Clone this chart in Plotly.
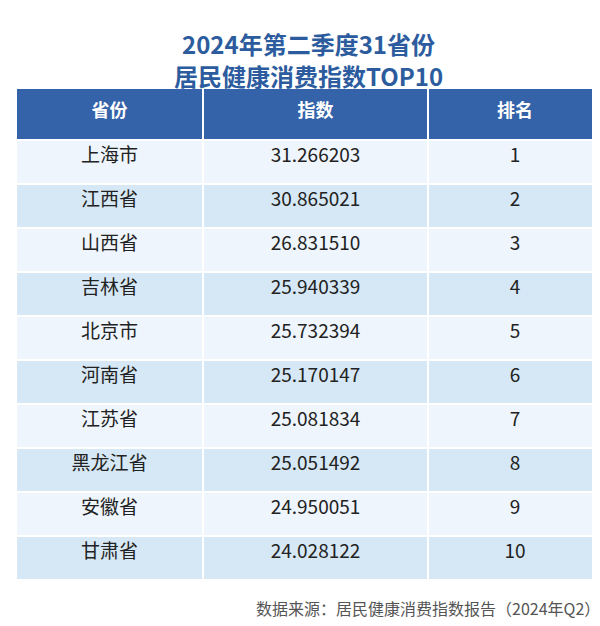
import plotly.graph_objects as go

provinces = ["上海市","江西省","山西省","吉林省","北京市","河南省","江苏省","黑龙江省","安徽省","甘肃省"]
index_vals = ["31.266203","30.865021","26.831510","25.940339","25.732394","25.170147","25.081834","25.051492","24.950051","24.028122"]
ranks = [1,2,3,4,5,6,7,8,9,10]
headers = ["省份","指数","排名"]

W, H = 600, 626
row_colors = ["#eef5fc" if i % 2 == 0 else "#d6e8f5" for i in range(len(provinces))]
font = "Noto Sans CJK SC"

fig = go.Figure(go.Table(
    domain=dict(x=[8/W, 594/W], y=[0.03, 1-80/H]),
    columnwidth=[187, 225, 174],
    header=dict(values=[f"<b>{h}</b>" for h in headers], fill_color="#3563a9",
                line=dict(color="white", width=2), align="center", height=52,
                font=dict(family=font, size=18, color="white")),
    cells=dict(values=[provinces, index_vals, ranks], fill_color=[row_colors]*3,
               line=dict(color="white", width=2), align="center", height=44,
               font=dict(family=font, size=19, color="#222222")),
))
fig.add_annotation(x=0.5, y=1-36/H, xref="paper", yref="paper", showarrow=False, yanchor="middle",
                   text="<b>2024年第二季度31省份</b>", font=dict(family=font, size=24, color="#2c5c9e"))
fig.add_annotation(x=0.5, y=1-67/H, xref="paper", yref="paper", showarrow=False, yanchor="middle",
                   text="<b>居民健康消费指数TOP10</b>", font=dict(family=font, size=24, color="#2c5c9e"))
fig.add_annotation(x=594/W, y=1-600/H, xref="paper", yref="paper", showarrow=False, xanchor="right", yanchor="middle",
                   text="数据来源：居民健康消费指数报告（2024年Q2）", font=dict(family=font, size=16, color="#555555"))
fig.update_layout(width=W, height=H, margin=dict(l=0, r=0, t=0, b=0),
                  paper_bgcolor="white", plot_bgcolor="white")
fig.write_html("out.html")
